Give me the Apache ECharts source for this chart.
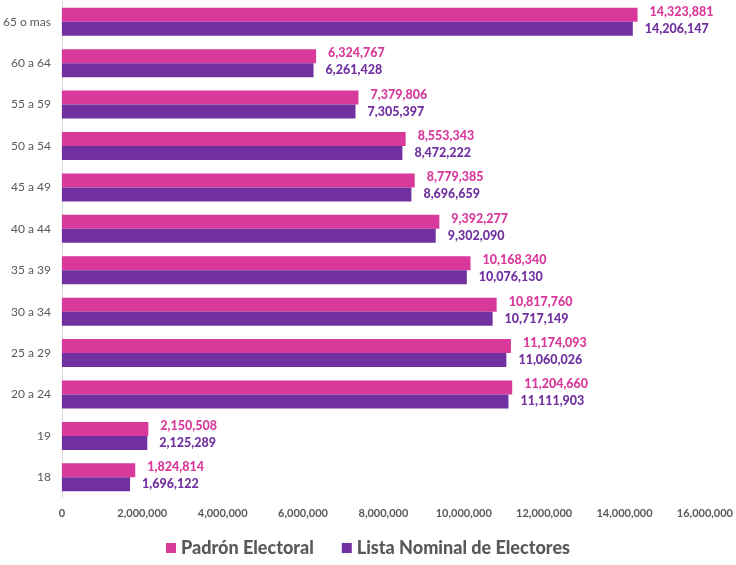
<!DOCTYPE html>
<html lang="es">
<head>
<meta charset="utf-8">
<title>Padrón y Lista Nominal por edad</title>
<script src="https://cdn.jsdelivr.net/npm/echarts@6/dist/echarts.min.js"></script>
<style>
  html, body { margin: 0; padding: 0; background: #fff; }
  #chart { width: 736px; height: 565px; }
</style>
</head>
<body>
<div id="chart"></div>
<script type="text/javascript">
    // categories, bottom to top
    let ageGroups = ['18', '19', '20 a 24', '25 a 29', '30 a 34', '35 a 39', '40 a 44', '45 a 49', '50 a 54', '55 a 59', '60 a 64', '65 o mas'];
    let padron = [1824814, 2150508, 11204660, 11174093, 10817760, 10168340, 9392277, 8779385, 8553343, 7379806, 6324767, 14323881];
    let listaNominal = [1696122, 2125289, 11111903, 11060026, 10717149, 10076130, 9302090, 8696659, 8472222, 7305397, 6261428, 14206147];
    let seriesNames = ['Padrón Electoral', 'Lista Nominal de Electores'];

    let pink = '#D9399A';
    let purple = '#7030A0';
    let gray = '#595959';
    let font = 'Lato';

    function fmt(v){
        return v.toLocaleString('en-US');
    }

    let Chart = echarts.init(document.getElementById('chart'));

    let option = {
        animation: false,
        textStyle: { fontFamily: font },
        grid: { left: 61, right: 27, top: 1, bottom: 67 },
        legend: {
            data: seriesNames,
            bottom: 3,
            left: 'center',
            icon: 'rect',
            itemWidth: 10,
            itemHeight: 10,
            itemGap: 28,
            textStyle: { fontFamily: font, fontSize: 18, fontWeight: 900, color: gray }
        },
        xAxis: {
            type: 'value',
            min: 0,
            max: 16000000,
            interval: 2000000,
            axisLine: { show: false },
            axisTick: { show: false },
            splitLine: { show: false },
            axisLabel: {
                color: gray, fontSize: 11, fontWeight: 'bold', margin: 10,
                formatter: function(v){ return fmt(v); }
            }
        },
        yAxis: {
            type: 'category',
            data: ageGroups,
            axisLine: { show: true, lineStyle: { color: '#D9D9D9', width: 1 } },
            axisTick: { show: false },
            axisLabel: { color: gray, fontSize: 12, margin: 11 }
        },
        series: [{
            name: seriesNames[0],
            type: 'bar',
            data: padron,
            barWidth: 14,
            barGap: '0%',
            itemStyle: { color: pink },
            label: {
                show: true, position: 'right', distance: 12, offset: [0, -3],
                color: pink, fontSize: 12.5, fontWeight: 900,
                formatter: function(p){ return fmt(p.value); }
            }
        }, {
            name: seriesNames[1],
            type: 'bar',
            data: listaNominal,
            barWidth: 14,
            itemStyle: { color: purple },
            label: {
                show: true, position: 'right', distance: 12,
                color: purple, fontSize: 12.5, fontWeight: 900,
                formatter: function(p){ return fmt(p.value); }
            }
        }]
    };

    Chart.setOption(option);
</script>
</body>
</html>
